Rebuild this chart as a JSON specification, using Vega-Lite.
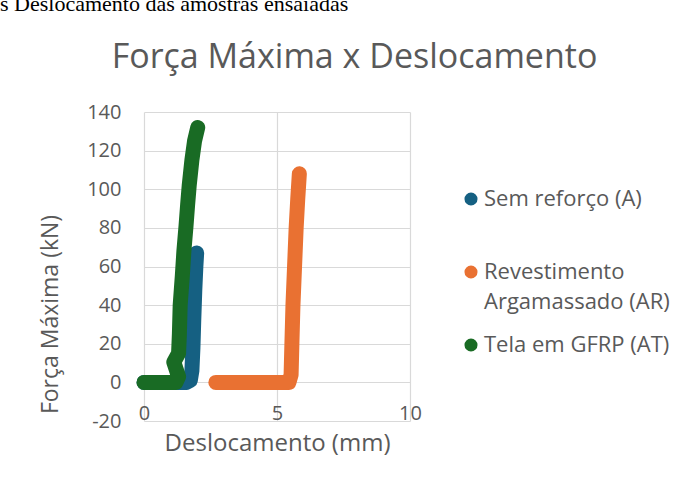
{
  "$schema": "https://vega.github.io/schema/vega-lite/v6.json",
  "width": 266,
  "height": 309,
  "autosize": {"type": "none"},
  "padding": {"left": 144, "top": 112, "right": 280, "bottom": 65},
  "background": "white",
  "title": {
    "text": "s Deslocamento das amostras ensaiadas",
    "anchor": "start",
    "frame": "group",
    "font": "Liberation Serif",
    "fontSize": 22,
    "fontWeight": "normal",
    "color": "#000000",
    "dx": -144,
    "dy": -24,
    "offset": 0
  },
  "config": {
    "view": {"stroke": null},
    "font": "Open Sans"
  },
  "data": {
    "values": [
      {"serie": "Sem reforço (A)", "n": 1, "x": 0, "y": 0},
      {"serie": "Sem reforço (A)", "n": 2, "x": 0.8, "y": 0},
      {"serie": "Sem reforço (A)", "n": 3, "x": 1.6, "y": 0},
      {"serie": "Sem reforço (A)", "n": 4, "x": 1.74, "y": 1},
      {"serie": "Sem reforço (A)", "n": 5, "x": 1.8, "y": 6},
      {"serie": "Sem reforço (A)", "n": 6, "x": 1.84, "y": 18},
      {"serie": "Sem reforço (A)", "n": 7, "x": 1.87, "y": 32},
      {"serie": "Sem reforço (A)", "n": 8, "x": 1.91, "y": 48},
      {"serie": "Sem reforço (A)", "n": 9, "x": 1.95, "y": 60},
      {"serie": "Sem reforço (A)", "n": 10, "x": 1.98, "y": 67},
      {"serie": "Revestimento Argamassado (AR)", "n": 1, "x": 2.7, "y": 0},
      {"serie": "Revestimento Argamassado (AR)", "n": 2, "x": 3.5, "y": 0},
      {"serie": "Revestimento Argamassado (AR)", "n": 3, "x": 4.5, "y": 0},
      {"serie": "Revestimento Argamassado (AR)", "n": 4, "x": 5.45, "y": 0},
      {"serie": "Revestimento Argamassado (AR)", "n": 5, "x": 5.53, "y": 4},
      {"serie": "Revestimento Argamassado (AR)", "n": 6, "x": 5.56, "y": 20},
      {"serie": "Revestimento Argamassado (AR)", "n": 7, "x": 5.6, "y": 40},
      {"serie": "Revestimento Argamassado (AR)", "n": 8, "x": 5.66, "y": 60},
      {"serie": "Revestimento Argamassado (AR)", "n": 9, "x": 5.72, "y": 80},
      {"serie": "Revestimento Argamassado (AR)", "n": 10, "x": 5.78, "y": 95},
      {"serie": "Revestimento Argamassado (AR)", "n": 11, "x": 5.84, "y": 108},
      {"serie": "Tela em GFRP (AT)", "n": 1, "x": 0, "y": 0},
      {"serie": "Tela em GFRP (AT)", "n": 2, "x": 0.6, "y": 0},
      {"serie": "Tela em GFRP (AT)", "n": 3, "x": 1.2, "y": 0},
      {"serie": "Tela em GFRP (AT)", "n": 4, "x": 1.3, "y": 3},
      {"serie": "Tela em GFRP (AT)", "n": 5, "x": 1.12, "y": 10.5},
      {"serie": "Tela em GFRP (AT)", "n": 6, "x": 1.3, "y": 15},
      {"serie": "Tela em GFRP (AT)", "n": 7, "x": 1.33, "y": 25},
      {"serie": "Tela em GFRP (AT)", "n": 8, "x": 1.36, "y": 40},
      {"serie": "Tela em GFRP (AT)", "n": 9, "x": 1.44, "y": 55},
      {"serie": "Tela em GFRP (AT)", "n": 10, "x": 1.5, "y": 68},
      {"serie": "Tela em GFRP (AT)", "n": 11, "x": 1.58, "y": 81},
      {"serie": "Tela em GFRP (AT)", "n": 12, "x": 1.64, "y": 92},
      {"serie": "Tela em GFRP (AT)", "n": 13, "x": 1.7, "y": 102},
      {"serie": "Tela em GFRP (AT)", "n": 14, "x": 1.8, "y": 115},
      {"serie": "Tela em GFRP (AT)", "n": 15, "x": 1.9, "y": 125},
      {"serie": "Tela em GFRP (AT)", "n": 16, "x": 2.02, "y": 132}
    ]
  },
  "resolve": {"scale": {"x": "independent"}, "axis": {"x": "independent"}},
  "layer": [
    {
      "mark": {"type": "line", "strokeWidth": 15, "strokeCap": "round", "strokeJoin": "round"},
      "encoding": {
        "x": {
          "field": "x",
          "type": "quantitative",
          "scale": {"domain": [0, 10], "nice": false, "zero": false},
          "axis": {
            "values": [0, 5, 10],
            "grid": true,
            "gridColor": "#D9D9D9",
            "gridWidth": 1.2,
            "domain": false,
            "ticks": false,
            "tickSize": 0,
            "labelFlush": false,
            "labelBaseline": "alphabetic",
            "labelPadding": -2,
            "labelFont": "Open Sans",
            "labelFontSize": 20,
            "labelColor": "#595959",
            "title": "Deslocamento (mm)",
            "titleFont": "Open Sans",
            "titleFontSize": 24,
            "titleFontWeight": "normal",
            "titleColor": "#595959",
            "titleX": 133,
            "titleY": 29,
            "titleAlign": "center",
            "titleBaseline": "alphabetic"
          }
        },
        "y": {
          "field": "y",
          "type": "quantitative",
          "scale": {"domain": [-20, 140], "nice": false, "zero": false},
          "axis": {
            "values": [-20, 0, 20, 40, 60, 80, 100, 120, 140],
            "labelExpr": "'' + datum.value",
            "grid": true,
            "gridColor": "#D9D9D9",
            "gridWidth": 1.2,
            "domain": false,
            "ticks": false,
            "tickSize": 0,
            "labelFlush": false,
            "labelPadding": 23,
            "labelFont": "Open Sans",
            "labelFontSize": 20,
            "labelColor": "#595959",
            "title": "Força Máxima (kN)",
            "titleFont": "Open Sans",
            "titleFontSize": 23,
            "titleFontWeight": "normal",
            "titleColor": "#595959",
            "titleAngle": -90,
            "titleX": -87,
            "titleY": 202,
            "titleAlign": "center",
            "titleBaseline": "alphabetic"
          }
        },
        "color": {
          "field": "serie",
          "type": "nominal",
          "scale": {
            "domain": ["Sem reforço (A)", "Revestimento Argamassado (AR)", "Tela em GFRP (AT)"],
            "range": ["#156082", "#E97132", "#196B24"]
          },
          "legend": {
            "orient": "none",
            "legendX": 316,
            "legendY": 76,
            "title": null,
            "padding": 0,
            "symbolType": "circle",
            "symbolSize": 170,
            "labelFont": "Open Sans",
            "labelFontSize": 22,
            "labelColor": "#595959",
            "labelOffset": 2,
            "labelLimit": 300,
            "rowPadding": 21,
            "labelExpr": "datum.label == 'Revestimento Argamassado (AR)' ? ['Revestimento', 'Argamassado (AR)'] : (datum.label == 'Sem reforço (A)' ? ['Sem reforço (A)', ''] : datum.label)",
            "encode": {
              "symbols": {
                "update": {
                  "fill": {"scale": "color", "field": "value"},
                  "strokeWidth": {"value": 0}
                }
              },
              "labels": {
                "update": {
                  "lineHeight": {"value": 30}
                }
              }
            }
          }
        },
        "order": {"field": "n", "type": "quantitative"}
      }
    },
    {
      "mark": {"type": "point", "opacity": 0},
      "encoding": {
        "x": {
          "field": "x",
          "type": "quantitative",
          "scale": {"domain": [0, 10], "nice": false, "zero": false},
          "axis": {
            "orient": "top",
            "labels": false,
            "ticks": false,
            "domain": false,
            "grid": false,
            "title": "Força Máxima x Deslocamento",
            "titleFont": "Open Sans",
            "titleFontSize": 34,
            "titleFontWeight": "normal",
            "titleColor": "#595959",
            "titleX": 210,
            "titleY": -45,
            "titleAlign": "center",
            "titleBaseline": "alphabetic"
          }
        }
      }
    }
  ]
}
